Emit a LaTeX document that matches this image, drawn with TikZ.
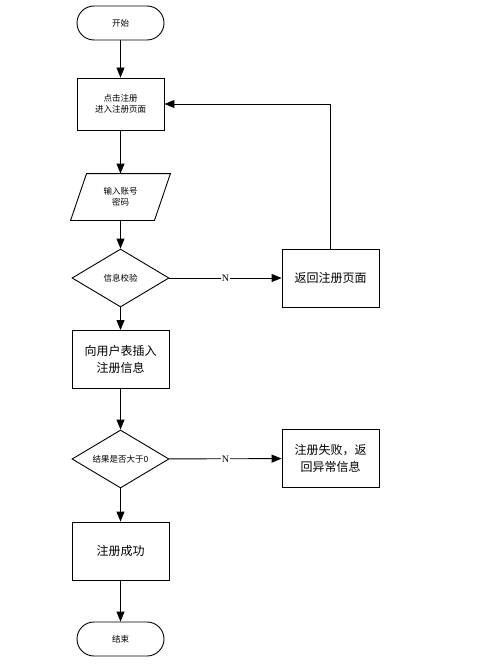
\documentclass[tikz,border=0pt]{standalone}
\usepackage{fontspec}
\setmainfont{Liberation Serif}
\newfontfamily\cjk{Noto Sans CJK SC}
\usetikzlibrary{shapes.geometric,arrows.meta}
\begin{document}
\begin{tikzpicture}[x=1pt,y=-1pt,
  base/.style={draw=black,line width=0.9pt,align=center,inner sep=0pt,font=\cjk\fontsize{8.5}{11}\selectfont},
  term/.style={base,rounded corners=17pt,minimum width=87pt,minimum height=34pt},
  proc/.style={base,minimum width=87pt,minimum height=52pt},
  bigproc/.style={base,minimum width=97pt,minimum height=58pt,font=\cjk\fontsize{12}{17}\selectfont},
  io/.style={base,draw=none,minimum width=99pt,minimum height=46pt},
  outline/.style={draw=black,line width=0.9pt},
  dec/.style={base,diamond,minimum width=97pt,minimum height=58pt,aspect=1.67},
  arr/.style={line width=0.9pt,-{Triangle[length=10pt,width=8pt]}},
  lab/.style={fill=white,inner sep=1pt,font=\fontsize{10}{12}\selectfont}]
\useasboundingbox (0,0) rectangle (484,666);
\node[term] (start) at (120.5,23) {开始};
\node[proc] (reg) at (120.5,104) {点击注册\\进入注册页面};
\node[io] (input) at (120.5,197) {输入账号\\密码};
\draw[outline] ([xshift=16pt]input.north west) -- (input.north east)
  -- ([xshift=-16pt]input.south east) -- (input.south west) -- cycle;
\node[dec] (check) at (120.5,278) {信息校验};
\node[bigproc] (back) at (330.5,278) {返回注册页面};
\node[bigproc] (insert) at (120.5,359.5) {向用户表插入\\注册信息};
\node[dec] (res) at (120.5,459) {结果是否大于0};
\node[bigproc] (fail) at (330.5,458.5) {注册失败，返\\回异常信息};
\node[bigproc] (ok) at (120.5,551) {注册成功};
\node[term] (end) at (120.5,639) {结束};
\draw[arr] (start) -- (reg);
\draw[arr] (reg) -- (input);
\draw[arr] (input) -- (check);
\draw[arr] (check) -- (insert);
\draw[arr] (insert) -- (res);
\draw[arr] (res) -- (ok);
\draw[arr] (ok) -- (end);
\draw[arr] (check) -- node[lab] (n1) {N} (back);
\draw[arr] (res) -- node[lab] (n2) {N} (fail);
\draw[arr] (back.north) |- (reg.east);
\end{tikzpicture}
\end{document}
